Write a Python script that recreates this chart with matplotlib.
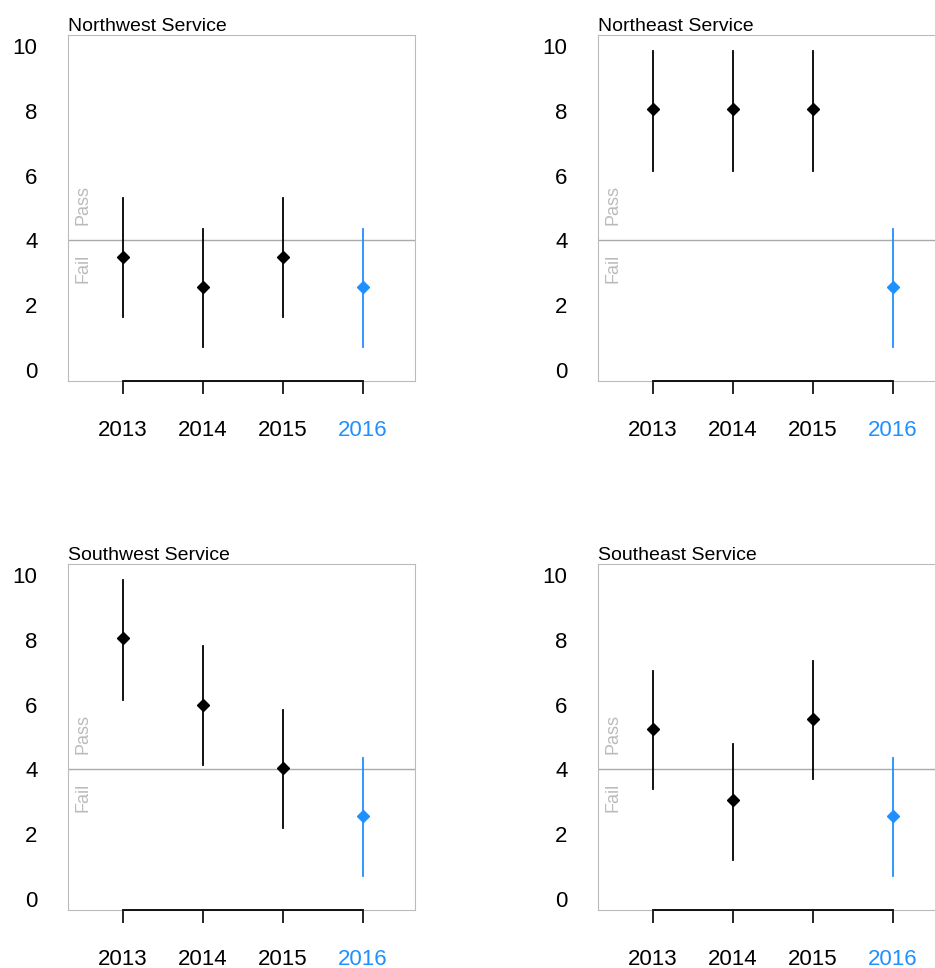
import matplotlib.pyplot as plt

plt.rcParams['font.family'] = ['Liberation Sans', 'DejaVu Sans']

years = ["2013", "2014", "2015", "2016"]
titles = ["Northwest Service", "Northeast Service", "Southwest Service", "Southeast Service"]
means = [[3.5, 2.55, 3.5, 2.55],
         [8.05, 8.05, 8.05, 2.55],
         [8.05, 6.0, 4.05, 2.55],
         [5.25, 3.05, 5.55, 2.55]]
lows = [[1.65, 0.7, 1.65, 0.7],
        [6.15, 6.15, 6.15, 0.7],
        [6.15, 4.15, 2.2, 0.7],
        [3.4, 1.2, 3.7, 0.7]]
highs = [[5.3, 4.35, 5.3, 4.35],
         [9.85, 9.85, 9.85, 4.35],
         [9.85, 7.8, 5.85, 4.35],
         [7.05, 4.8, 7.35, 4.35]]
threshold = 4
blue = "#1E90FF"

fig = plt.figure(figsize=(9.35, 9.68), dpi=100)
lefts = [0.0727, 0.6396, 0.0727, 0.6396]
bottoms = [0.6064, 0.6064, 0.0599, 0.0599]
xs = [1, 2, 3, 4]
for i in range(4):
    ax = fig.add_axes([lefts[i], bottoms[i], 0.371, 0.3574])
    ax.set_xlim(0.31, 4.65)
    ax.set_ylim(-0.34, 10.34)
    for s in ax.spines.values():
        s.set_color("#bbbbbb")
    ax.axhline(threshold, color="#aaaaaa", lw=1)
    for j, x in enumerate(xs):
        c = blue if j == 3 else "black"
        ax.plot([x, x], [lows[i][j], highs[i][j]], color=c, lw=1.3)
        ax.plot(x, means[i][j], "D", color=c, ms=6)
    ax.plot([1, 4], [-0.34, -0.34], color="black", lw=1.3, clip_on=False, zorder=5)
    ax.set_xticks(xs)
    ax.set_xticklabels(years, fontsize=16)
    ax.get_xticklabels()[3].set_color(blue)
    ax.tick_params(axis="x", length=9, width=1.2, pad=19)
    ax.set_yticks(range(0, 11, 2))
    ax.tick_params(axis="y", length=0, pad=22, labelsize=16)
    ax.text(0.5, 5.1, "Pass", rotation=90, color="#bbbbbb", fontsize=13, ha="center", va="center")
    ax.text(0.5, 3.15, "Fail", rotation=90, color="#bbbbbb", fontsize=13, ha="center", va="center")
    ax.set_title(titles[i], loc="left", fontsize=14, pad=3)

fig.savefig("out.png", dpi=100)
